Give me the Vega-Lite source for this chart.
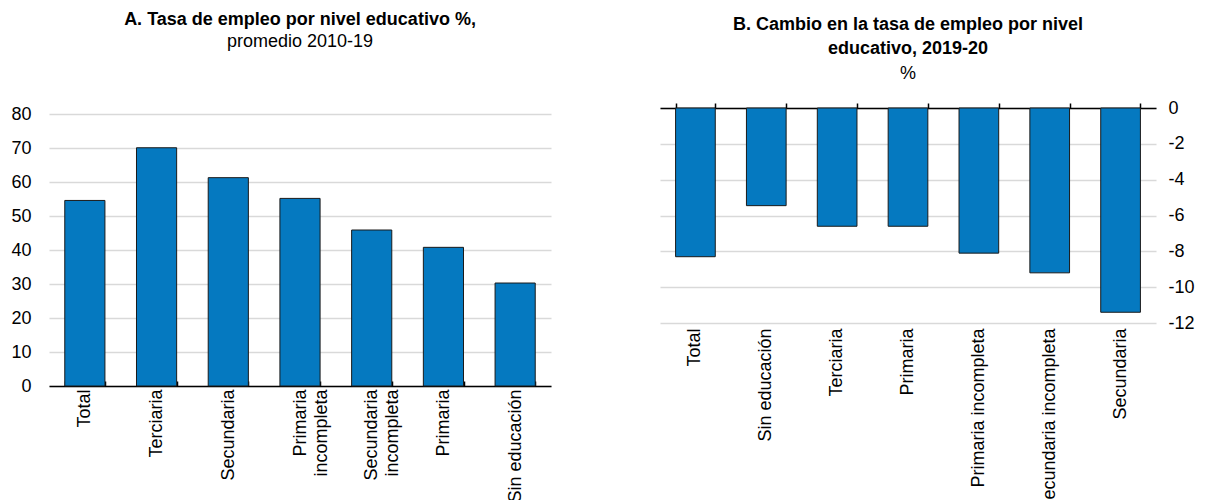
{
  "$schema": "https://vega.github.io/schema/vega-lite/v6.json",
  "background": "white",
  "padding": {"left": 10, "top": 11, "right": 5, "bottom": 0},
  "spacing": 109,
  "config": {
    "view": {"stroke": null},
    "font": "Liberation Sans",
    "axis": {"labelColor": "black", "labelFontSize": 18, "labelLimit": 400, "gridColor": "#d9d9d9", "gridWidth": 1.5}
  },
  "hconcat": [
    {
      "width": 502,
      "height": 278,
      "title": {
        "text": "A. Tasa de empleo por nivel educativo  %,",
        "subtitle": "promedio 2010-19",
        "font": "Liberation Sans",
        "fontSize": 18,
        "fontWeight": "bold",
        "color": "black",
        "subtitleFont": "Liberation Sans",
        "subtitleFontSize": 18,
        "subtitleColor": "black",
        "subtitlePadding": 4,
        "anchor": "middle",
        "frame": "group",
        "offset": 54
      },
      "data": {"values": [
        {"nivel": "Total", "tasa": 54.6},
        {"nivel": "Terciaria", "tasa": 70.1},
        {"nivel": "Secundaria", "tasa": 61.3},
        {"nivel": "Primaria incompleta", "tasa": 55.2},
        {"nivel": "Secundaria incompleta", "tasa": 45.9},
        {"nivel": "Primaria", "tasa": 40.8},
        {"nivel": "Sin educación", "tasa": 30.3}
      ]},
      "mark": {"type": "bar", "color": "#0579c0", "stroke": "#1a1a1a", "strokeWidth": 1},
      "encoding": {
        "x": {
          "field": "nivel", "type": "nominal", "sort": null,
          "scale": {"paddingInner": 0.44, "paddingOuter": 0.22},
          "axis": {
            "title": null, "labelAngle": 270, "labelPadding": 8,
            "domainColor": "black", "domainWidth": 1.5,
            "ticks": true, "tickBand": "extent", "tickSize": -5, "tickColor": "black", "tickWidth": 1.5,
            "labelLineHeight": 21,
            "labelExpr": "datum.label == 'Primaria incompleta' ? ['Primaria', 'incompleta'] : datum.label == 'Secundaria incompleta' ? ['Secundaria', 'incompleta'] : datum.label"
          }
        },
        "y": {
          "field": "tasa", "type": "quantitative",
          "scale": {"domain": [0, 81.8], "nice": false},
          "axis": {
            "title": null, "values": [0, 10, 20, 30, 40, 50, 60, 70, 80],
            "domain": false, "ticks": false, "labelPadding": 18, "labelOverlap": false
          }
        }
      }
    },
    {
      "width": 496,
      "height": 215,
      "title": {
        "text": ["B. Cambio en la tasa de empleo por nivel", "educativo, 2019-20"],
        "subtitle": "%",
        "font": "Liberation Sans",
        "fontSize": 18,
        "fontWeight": "bold",
        "color": "black",
        "lineHeight": 24,
        "subtitleFont": "Liberation Sans",
        "subtitleFontSize": 18,
        "subtitleColor": "black",
        "subtitlePadding": 7,
        "anchor": "middle",
        "frame": "group",
        "offset": 16
      },
      "data": {"values": [
        {"nivel": "Total", "cambio": -8.3},
        {"nivel": "Sin educación", "cambio": -5.45},
        {"nivel": "Terciaria", "cambio": -6.6},
        {"nivel": "Primaria", "cambio": -6.6},
        {"nivel": "Primaria incompleta", "cambio": -8.1},
        {"nivel": "Secundaria incompleta", "cambio": -9.2},
        {"nivel": "Secundaria", "cambio": -11.4}
      ]},
      "layer": [
        {
          "mark": {"type": "bar", "color": "#0579c0", "stroke": "#1a1a1a", "strokeWidth": 1},
          "encoding": {
            "x": {
              "field": "nivel", "type": "nominal", "sort": null,
              "scale": {"paddingInner": 0.44, "paddingOuter": 0.22},
              "axis": {"title": null, "orient": "bottom", "labelAngle": 270, "labelPadding": 5, "domain": false, "ticks": false}
            },
            "y": {
              "field": "cambio", "type": "quantitative",
              "scale": {"domain": [-12, 0], "nice": false},
              "axis": {
                "title": null, "orient": "right", "values": [0, -2, -4, -6, -8, -10, -12],
                "domain": false, "ticks": false, "labelPadding": 12, "labelOverlap": false,
                "labelExpr": "'' + datum.value"
              }
            }
          }
        },
        {
          "mark": {"type": "bar", "opacity": 0},
          "encoding": {
            "x": {
              "field": "nivel", "type": "nominal", "sort": null,
              "axis": {"title": null, "orient": "top", "labels": false, "domainColor": "black", "domainWidth": 1.5, "ticks": true, "tickBand": "extent", "tickSize": 5, "tickColor": "black", "tickWidth": 1.5}
            }
          }
        }
      ],
      "resolve": {"axis": {"x": "independent"}}
    }
  ]
}
